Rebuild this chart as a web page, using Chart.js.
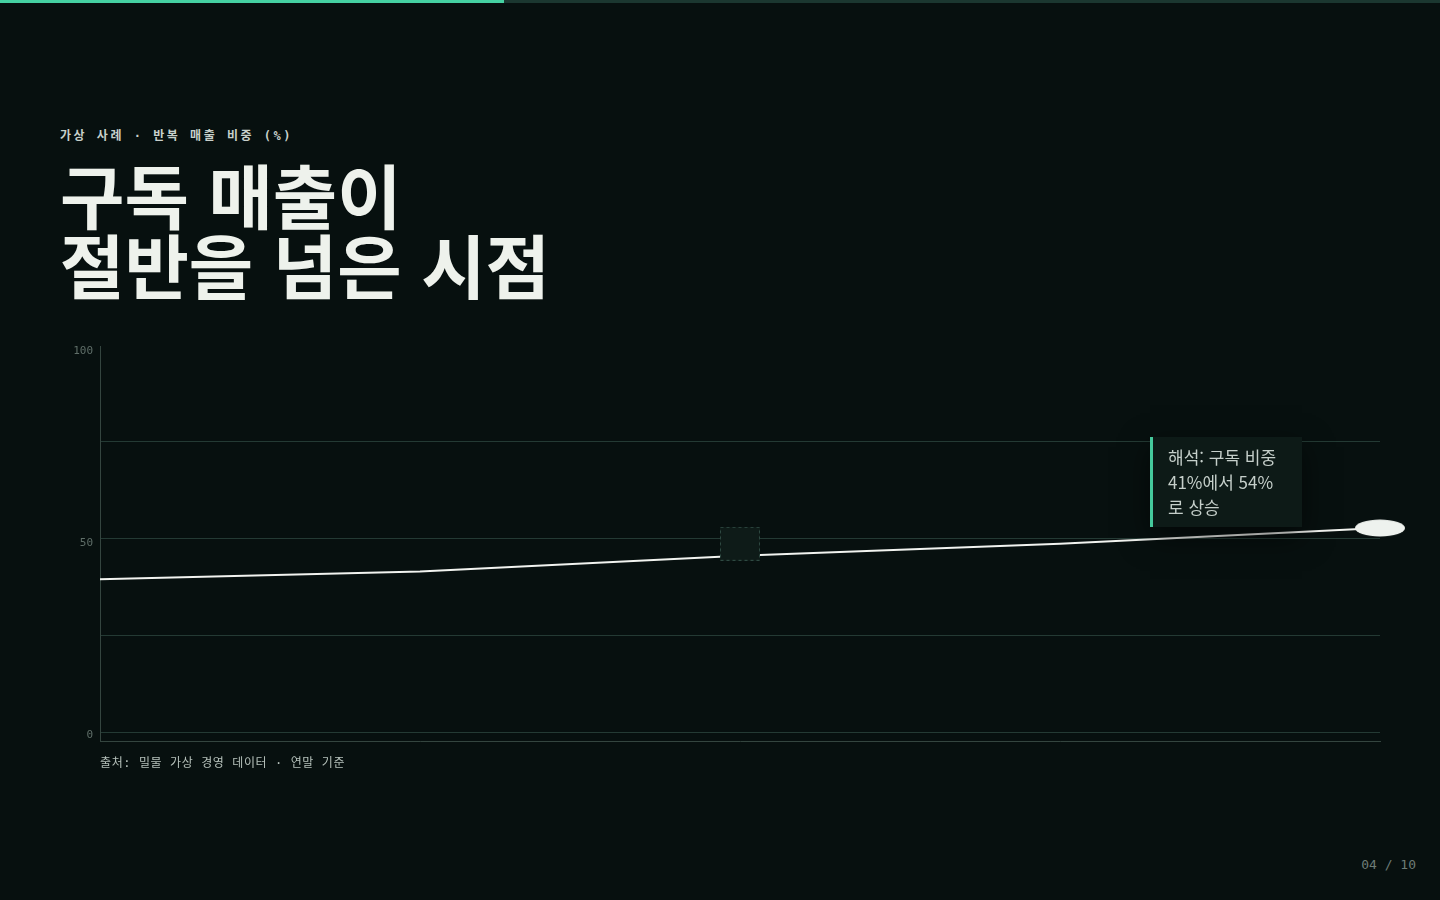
<!DOCTYPE html>
<html lang="ko">
<head>
<meta charset="utf-8">
<title>구독 매출이 절반을 넘은 시점</title>
<script src="https://cdn.jsdelivr.net/npm/chart.js@4.4.1/dist/chart.umd.min.js"></script>
<style>
    html, body {
        margin: 0;
        padding: 0;
        width: 1440px;
        height: 900px;
        background: #07100f;
        overflow: hidden;
        font-family: "Noto Sans CJK KR", "Noto Sans", sans-serif;
    }
    .progress {
        position: absolute;
        left: 0; top: 0;
        width: 1440px; height: 3px;
        background: #1b3730;
    }
    .progress span {
        display: block;
        width: 504px; height: 3px;
        background: #45d1a2;
    }
    .eyebrow {
        position: absolute;
        left: 60px; top: 126px;
        font-family: "DejaVu Sans Mono", "Noto Sans CJK KR", monospace;
        font-size: 12px;
        font-weight: 700;
        letter-spacing: 0.21em;
        color: #c8d0cb;
    }
    h1 {
        position: absolute;
        left: 60px; top: 159px;
        margin: 0;
        font-size: 70px;
        font-weight: 700;
        line-height: 70px;
        letter-spacing: 0;
        color: #eef2ec;
    }
    .chart-box {
        position: absolute;
        left: 40px; top: 333px;
        width: 1380px; height: 423px;
    }
    .note {
        position: absolute;
        left: 1150px; top: 437px;
        width: 134px; height: 80px;
        padding: 7px 0 3px 15px;
        background: #0d1a17;
        border-left: 3px solid #45c99c;
        box-shadow: 0 10px 28px rgba(0, 0, 0, 0.55);
        font-size: 17px;
        line-height: 25px;
        color: #c5cfca;
        white-space: nowrap;
    }
    .source {
        position: absolute;
        left: 100px; top: 753px;
        font-family: "DejaVu Sans Mono", "Noto Sans CJK KR", monospace;
        font-size: 12px;
        letter-spacing: 0.05em;
        color: #b5c0ba;
    }
    .page {
        position: absolute;
        right: 24px; top: 857px;
        font-family: "DejaVu Sans Mono", monospace;
        font-size: 13px;
        color: #6d7c76;
    }
</style>
</head>
<body>
<div class="progress"><span></span></div>
<div class="eyebrow">가상 사례 · 반복 매출 비중 (%)</div>
<h1>구독 매출이<br>절반을 넘은 시점</h1>
<div class="chart-box"><canvas id="shareChart"></canvas></div>
<div class="note">해석: 구독 비중<br>41%에서 54%<br>로 상승</div>
<div class="source">출처: 밀물 가상 경영 데이터 · 연말 기준</div>
<div class="page">04 / 10</div>

<script>
const years = ['1년차', '2년차', '3년차', '4년차', '5년차'];
const recurringShare = [41, 43, 47, 50, 54];
const halfMarker = [null, null, 50, null, null];
const labelTicks = [0, 50, 100];
const gridTicks = [0, 25, 50, 75];

const gridColor = '#243a34';
const axisColor = '#34453f';

// end point: flat white ellipse
function makeEllipse() {
    const c = document.createElement('canvas');
    c.width = 52; c.height = 18;
    const ctx = c.getContext('2d');
    ctx.fillStyle = '#eef2ee';
    ctx.beginPath();
    ctx.ellipse(26, 9, 25, 8.5, 0, 0, Math.PI * 2);
    ctx.fill();
    return c;
}

// dashed square marking the 50% crossing
function makeDashedBox() {
    const c = document.createElement('canvas');
    c.width = 40; c.height = 34;
    const ctx = c.getContext('2d');
    ctx.fillStyle = '#0e1b18';
    ctx.fillRect(0, 0, 40, 34);
    ctx.strokeStyle = '#2e4a42';
    ctx.lineWidth = 1;
    ctx.setLineDash([3, 3]);
    ctx.strokeRect(0.5, 0.5, 39, 33);
    return c;
}

const ellipse = makeEllipse();
const dashedBox = makeDashedBox();
const last = recurringShare.length - 1;

new Chart(document.getElementById('shareChart'), {
    type: 'line',
    data: {
        labels: years,
        datasets: [{
            data: halfMarker,
            yAxisID: 'y',
            showLine: false,
            pointStyle: dashedBox,
            pointRadius: 10,
            pointHoverRadius: 10,
            order: 0,
            clip: false,
        }, {
            data: recurringShare,
            yAxisID: 'y',
            borderColor: '#f2f4f0',
            borderWidth: 2,
            tension: 0,
            fill: false,
            pointStyle: recurringShare.map((v, i) => i === last ? ellipse : 'circle'),
            pointRadius: recurringShare.map((v, i) => i === last ? 8 : 0),
            pointHoverRadius: recurringShare.map((v, i) => i === last ? 8 : 0),
            order: 1,
            clip: false,
        }],
    },
    options: {
        responsive: true,
        maintainAspectRatio: false,
        animation: false,
        events: [],
        layout: {
            padding: { left: 0, top: 8, right: 40, bottom: 15 },
        },
        plugins: {
            legend: { display: false },
            tooltip: { enabled: false },
        },
        scales: {
            x: {
                ticks: { display: false },
                grid: { display: false },
                border: { display: true, color: axisColor, width: 1 },
                afterFit: (scale) => { scale.height = 0; },
            },
            y: {
                display: false,
                min: 0,
                max: 100,
            },
            yLab: {
                position: 'left',
                min: -1.6,
                max: 101.3,
                afterBuildTicks: (scale) => { scale.ticks = labelTicks.map(v => ({ value: v })); },
                afterFit: (scale) => { scale.width = 60; },
                ticks: {
                    padding: 7,
                    color: '#5f6e68',
                    font: { family: 'DejaVu Sans Mono', size: 11 },
                },
                grid: { display: false, drawTicks: false },
                border: { display: true, color: axisColor, width: 1 },
            },
            yGrid: {
                position: 'left',
                min: -2.3,
                max: 99.5,
                afterBuildTicks: (scale) => { scale.ticks = gridTicks.map(v => ({ value: v })); },
                afterFit: (scale) => { scale.width = 0; },
                ticks: { display: false },
                grid: { color: gridColor, lineWidth: 1, drawTicks: false },
                border: { display: false },
            },
        },
    },
});
</script>
</body>
</html>
